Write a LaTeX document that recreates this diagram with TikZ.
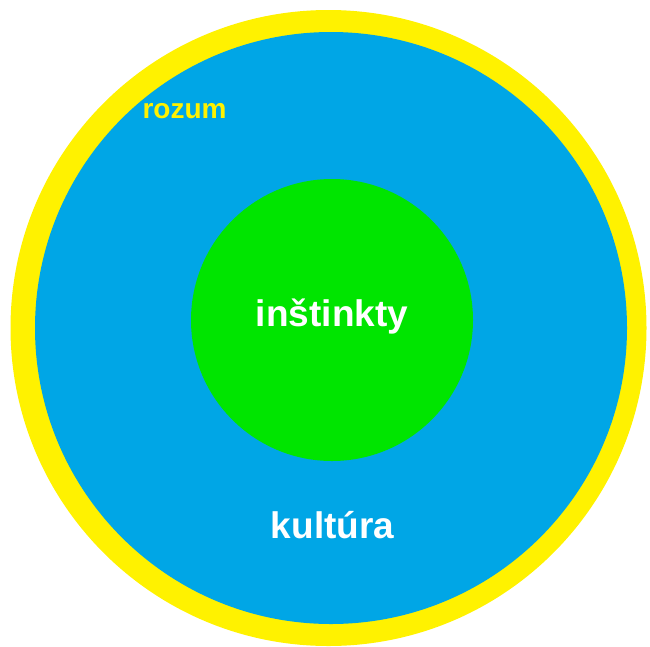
\documentclass[tikz,border=0pt]{standalone}
\usepackage{fontspec}
\setmainfont{Liberation Sans}
\usetikzlibrary{positioning}
\definecolor{sun}{RGB}{255,242,0}
\definecolor{sky}{RGB}{0,166,230}
\definecolor{grass}{RGB}{0,229,0}
\tikzset{
  disc/.style={circle,fill=#1,draw=none,inner sep=0pt},
  disc/.default=sky,
  word/.style={text=#1,inner sep=0pt,anchor=base,font=\bfseries\fontsize{37}{37}\selectfont},
  word/.default=white,
}
\begin{document}
\begin{tikzpicture}[x=1pt,y=-1pt]
  \useasboundingbox (0,0) rectangle (650,646);
  % three nested layers
  \node[disc=sun,minimum size=636pt] (rozumdisc) at (328.5,328) {};
  \node[disc=sky,minimum size=592pt] (kulturadisc) at (331,328) {};
  \node[disc=grass,minimum size=282pt] (instinktydisc) at (332,320) {};
  % labels
  \node[word=sun,font=\bfseries\fontsize{28}{28}\selectfont] (rozum) at (184.5,118) {rozum};
  \node[word] (instinkty) at (332,326) {inštinkty};
  \node[word] (kultura) at (332.5,538) {kultúra};
\end{tikzpicture}
\end{document}
